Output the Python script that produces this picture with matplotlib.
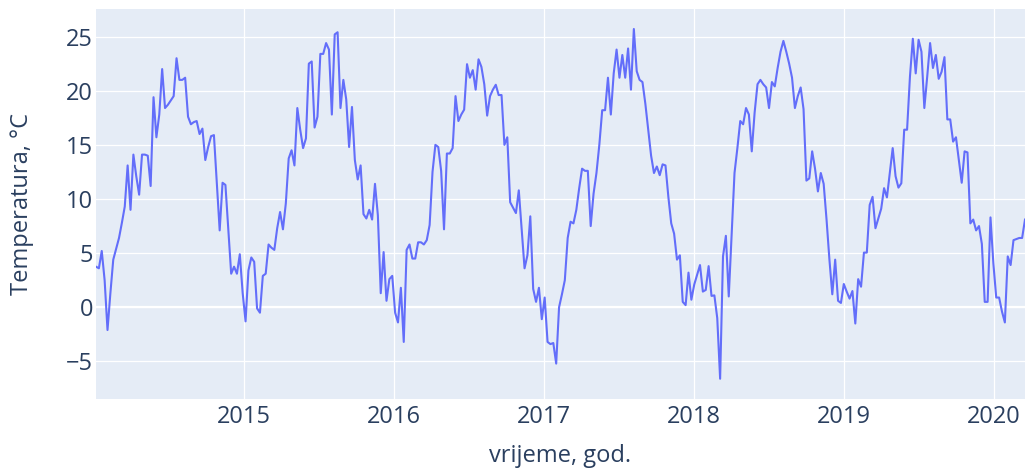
import numpy as np
import pandas as pd
import matplotlib
matplotlib.use('Agg')
import matplotlib.pyplot as plt

# tjedne temperature, po godinama (ponedjeljkom, od 2014-01-06)
temp_2014 = [3.75, 3.6, 5.2, 2.5, -2.1, 1.3, 4.4, 5.4, 6.4, 7.8,
             9.3, 13.1, 9.0, 14.1, 12.1, 10.4, 14.1, 14.1, 14.0, 11.2,
             19.4, 15.7, 17.8, 22.0, 18.4, 18.7, 19.1, 19.5, 23.0, 21.0,
             21.0, 21.2, 17.6, 16.9, 17.1, 17.2, 16.0, 16.5, 13.6, 14.8,
             15.8, 15.9, 11.5, 7.1, 11.5, 11.3, 7.2, 3.1, 3.75, 3.1,
             4.9, 1.3]
temp_2015 = [-1.3, 3.4, 4.6, 4.2, -0.1, -0.5, 2.9, 3.1, 5.8, 5.5,
             5.3, 7.3, 8.8, 7.2, 9.6, 13.75, 14.5, 13.1, 18.4, 16.4,
             14.7, 15.6, 22.5, 22.7, 16.6, 17.6, 23.4, 23.4, 24.4, 23.8,
             17.8, 25.2, 25.4, 18.4, 21.0, 19.2, 14.8, 18.5, 13.6, 11.8,
             13.1, 8.6, 8.2, 9.0, 8.1, 11.4, 8.5, 1.3, 5.1, 0.6,
             2.6, 2.9]
temp_2016 = [-0.5, -1.4, 1.8, -3.2, 5.3, 5.8, 4.5, 4.5, 6.0, 6.0,
             5.8, 6.2, 7.6, 12.5, 15.0, 14.8, 12.6, 7.2, 14.2, 14.2,
             14.7, 19.5, 17.2, 17.8, 18.25, 22.45, 21.2, 21.9, 20.1, 22.9,
             22.2, 20.6, 17.7, 19.5, 20.1, 20.55, 19.6, 19.6, 15.0, 15.7,
             9.7, 9.2, 8.7, 10.8, 7.2, 3.6, 4.8, 8.4, 1.7, 0.5,
             1.8, -1.1]
temp_2017 = [0.9, -3.2, -3.4, -3.3, -5.2, 0.0, 1.2, 2.5, 6.4, 7.9,
             7.75, 9.0, 11.0, 12.8, 12.6, 12.6, 7.5, 10.5, 12.4, 15.0,
             18.2, 18.2, 21.2, 17.8, 21.6, 23.8, 21.2, 23.3, 21.2, 23.9,
             20.1, 25.7, 21.8, 21.0, 20.8, 18.8, 16.4, 14.0, 12.4, 13.0,
             12.2, 13.2, 13.1, 10.2, 7.75, 6.8, 4.4, 4.8, 0.5, 0.2,
             3.2, 0.7]
temp_2018 = [2.1, 3.0, 3.9, 1.45, 1.6, 3.8, 1.05, 1.1, -1.0, -6.6,
             4.7, 6.6, 1.0, 6.8, 12.4, 14.7, 17.2, 16.9, 18.4, 17.8,
             14.4, 18.0, 20.6, 21.0, 20.6, 20.3, 18.4, 20.8, 20.4, 22.1,
             23.6, 24.6, 23.6, 22.5, 21.2, 18.4, 19.5, 20.3, 18.3, 11.7,
             11.9, 14.4, 12.8, 10.7, 12.4, 11.4, 8.1, 4.4, 1.2, 4.4,
             0.6, 0.4, 2.15]
temp_2019 = [1.45, 0.8, 1.5, -1.5, 2.6, 1.9, 5.05, 5.05, 9.45, 10.2,
             7.3, 8.2, 9.1, 11.0, 10.15, 12.4, 14.7, 12.1, 11.05, 11.45,
             16.4, 16.4, 21.3, 24.8, 21.6, 24.7, 23.6, 18.4, 21.3, 24.4,
             22.1, 23.3, 21.1, 21.75, 23.1, 17.35, 17.35, 15.3, 15.7, 13.6,
             11.5, 14.4, 14.3, 7.75, 8.1, 7.1, 7.5, 5.85, 0.5, 0.5,
             8.3, 4.05]
temp_2020 = [0.9, 0.9, -0.4, -1.4, 4.7, 3.9, 6.2, 6.3, 6.4, 6.4, 8.1]

year_ticks = [2015, 2016, 2017, 2018, 2019, 2020]
y_ticks = [-5, 0, 5, 10, 15, 20, 25]

temps = temp_2014 + temp_2015 + temp_2016 + temp_2017 + temp_2018 + temp_2019 + temp_2020
dates = pd.date_range('2014-01-06', periods=len(temps), freq='7D')

plt.rcParams['font.family'] = ['Open Sans', 'DejaVu Sans']
txt_color = '#2a3f5f'

fig = plt.figure(figsize=(10.25, 4.68), dpi=100)
ax = fig.add_axes([96 / 1025, 69 / 468, 929 / 1025, 389.5 / 468])
ax.set_facecolor('#E5ECF6')

ax.plot(dates, temps, color='#636EFA', lw=1.5, zorder=3)
ax.axhline(0, color='white', lw=1.6, zorder=1)

ax.set_xlim(dates[0], dates[-1])
ax.set_ylim(-8.47, 27.5)
ax.set_xticks([pd.Timestamp(f'{y}-01-01') for y in year_ticks])
ax.set_xticklabels([str(y) for y in year_ticks])
ax.set_yticks(y_ticks)

ax.grid(color='white', lw=0.9)
ax.set_axisbelow(True)
for s in ax.spines.values():
    s.set_visible(False)
ax.tick_params(axis='both', length=0, labelsize=17, labelcolor=txt_color)
ax.tick_params(axis='x', pad=4)
ax.tick_params(axis='y', pad=2)

fig.text(560 / 1025, 1 - 461.7 / 468, 'vrijeme, god.', ha='center', va='baseline',
         fontsize=17, color=txt_color)
fig.text(22 / 1025, 1 - 204 / 468, 'Temperatura, °C', ha='center', va='center',
         rotation=90, fontsize=17, color=txt_color)

fig.savefig('out.png', dpi=100)
